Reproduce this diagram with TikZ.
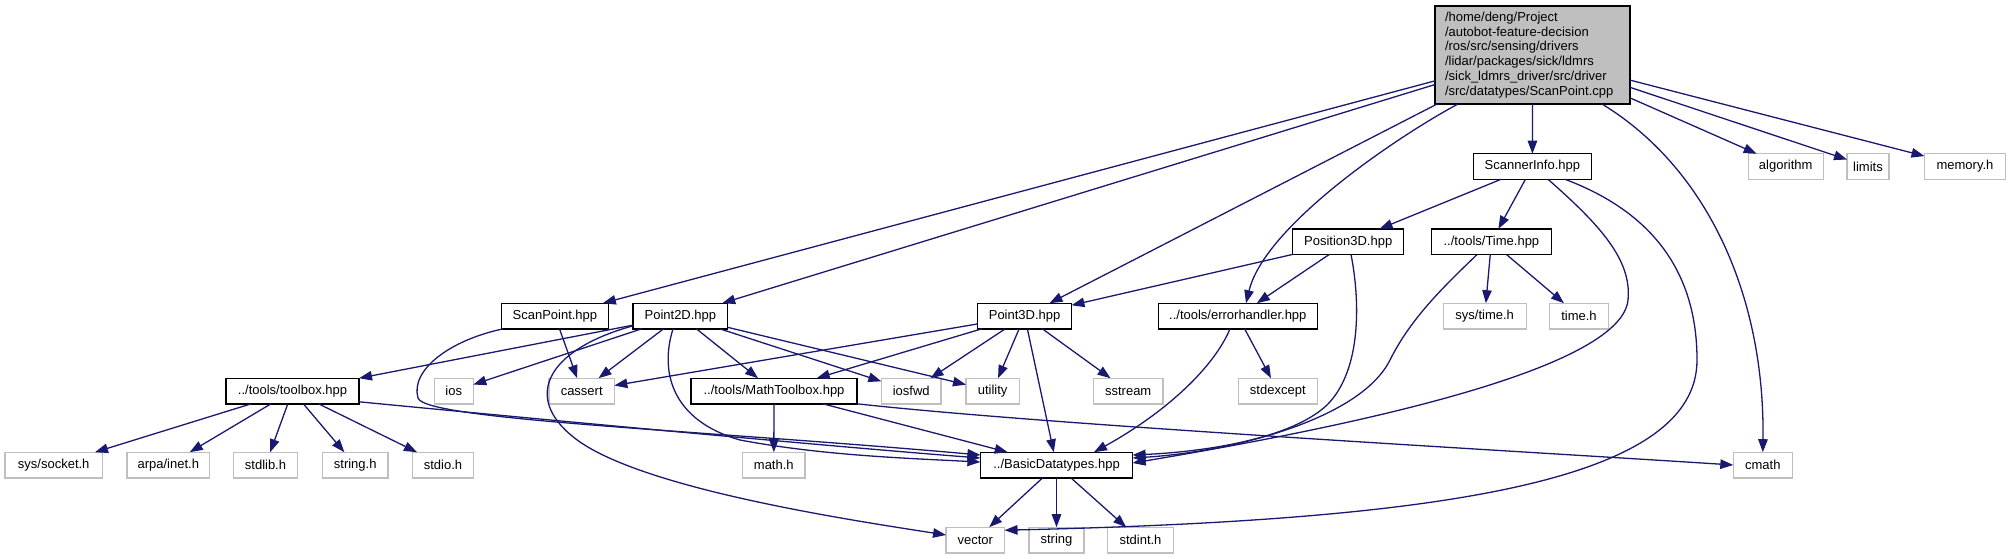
\documentclass[tikz,border=0pt]{standalone}
\usepackage{fontspec}
\setmainfont{Liberation Sans}
\usetikzlibrary{arrows.meta}
\definecolor{edgeblue}{HTML}{191970}
\definecolor{extgray}{HTML}{BFBFBF}
\begin{document}
\begin{tikzpicture}[x=1pt,y=-1pt,
  nbox/.style={minimum height=25.6pt, inner sep=0pt, outer sep=0pt, font=\fontsize{13}{15}\selectfont, fill=white},
  intnode/.style={nbox, draw=black, line width=1.4pt},
  extnode/.style={nbox, draw=extgray, line width=1.4pt},
  mainnode/.style={draw=black, line width=1.4pt, fill=extgray, inner sep=0pt, outer sep=0pt, font=\fontsize{13}{14.8}\selectfont, align=left, text width=175pt, minimum width=195pt, minimum height=98pt},
  edge/.style={draw=edgeblue, line width=1.3pt, -{Triangle[length=13pt,width=9.5pt]}}
]
\useasboundingbox (0,0) rectangle (2010,559);

% nodes
\node[mainnode] (main) at (1532.5,55) {/home/deng/Project\\/autobot-feature-decision\\/ros/src/sensing/drivers\\/lidar/packages/sick/ldmrs\\/sick\_ldmrs\_driver/src/driver\\/src/datatypes/ScanPoint.cpp};

\node[intnode, minimum width=117.8pt] (scannerinfo) at (1532.4,166.5) {ScannerInfo.hpp};
\node[extnode, minimum width=75pt] (algorithm) at (1785.7,166.5) {algorithm};
\node[extnode, minimum width=42pt] (limits) at (1868,166.5) {limits};
\node[extnode, minimum width=81pt] (memory) at (1965,166.5) {memory.h};

\node[intnode, minimum width=111pt] (position3d) at (1348.2,241.7) {Position3D.hpp};
\node[intnode, minimum width=120pt] (timehpp) at (1491.4,241.7) {../tools/Time.hpp};

\node[intnode, minimum width=107pt] (scanpoint) at (554.9,316) {ScanPoint.hpp};
\node[intnode, minimum width=94.7pt] (point2d) at (680.4,316) {Point2D.hpp};
\node[intnode, minimum width=93.7pt] (point3d) at (1024.6,316) {Point3D.hpp};
\node[intnode, minimum width=158.8pt] (errorhandler) at (1237.8,316) {../tools/errorhandler.hpp};
\node[extnode, minimum width=83pt] (systime) at (1484.7,316) {sys/time.h};
\node[extnode, minimum width=59pt] (timeh) at (1579,316) {time.h};

\node[intnode, minimum width=133pt] (toolbox) at (292.5,391) {../tools/toolbox.hpp};
\node[extnode, minimum width=39pt] (ios) at (453.8,391) {ios};
\node[extnode, minimum width=65.3pt] (cassert) at (581.7,391) {cassert};
\node[intnode, minimum width=166pt] (mathtoolbox) at (774,391) {../tools/MathToolbox.hpp};
\node[extnode, minimum width=59.7pt] (iosfwd) at (911.2,391) {iosfwd};
\node[extnode, minimum width=53.2pt] (utility) at (992.6,391) {utility};
\node[extnode, minimum width=69.2pt] (sstream) at (1128.2,391) {sstream};
\node[extnode, minimum width=79pt] (stdexcept) at (1277.8,391) {stdexcept};

\node[extnode, minimum width=97.3pt] (syssocket) at (53.7,465) {sys/socket.h};
\node[extnode, minimum width=82.7pt] (arpainet) at (168.3,465) {arpa/inet.h};
\node[extnode, minimum width=63.6pt] (stdlib) at (265.5,465) {stdlib.h};
\node[extnode, minimum width=65.7pt] (stringh) at (355.2,465) {string.h};
\node[extnode, minimum width=61.4pt] (stdio) at (443,465) {stdio.h};
\node[extnode, minimum width=62.5pt] (mathh) at (773.8,465) {math.h};
\node[intnode, minimum width=152.2pt] (basic) at (1056.5,465) {../BasicDatatypes.hpp};
\node[extnode, minimum width=59pt] (cmath) at (1762.8,465) {cmath};

\node[extnode, minimum width=58.5pt] (vector) at (975.3,540) {vector};
\node[extnode, minimum width=55pt] (string) at (1056.5,540) {string};
\node[extnode, minimum width=65.5pt] (stdint) at (1140.5,540) {stdint.h};

% edges from main
\draw[edge] (main) -- (scanpoint);
\draw[edge] (main) -- (point2d);
\draw[edge] (main) -- (point3d);
\draw[edge] ([xshift=23pt]main.south west) .. controls (1400,135) and (1265,225) .. ([xshift=87.6pt]errorhandler.north west);
\draw[edge] (main) -- (scannerinfo);
\draw[edge] ([xshift=-28pt]main.south east) .. controls (1710,170) and (1765,300) .. (cmath.north);
\draw[edge] (main) -- (algorithm);
\draw[edge] (main) -- (limits);
\draw[edge] (main) -- (memory);

% ScannerInfo
\draw[edge] (scannerinfo) -- (position3d);
\draw[edge] (scannerinfo) -- (timehpp);
\draw[edge] ([xshift=74.5pt]scannerinfo.south west) .. controls (1600,225) and (1632,260) .. (1628,300) .. controls (1622,360) and (1420,415) .. ([yshift=2pt]basic.east);
\draw[edge] ([xshift=91.5pt]scannerinfo.south west) .. controls (1660,215) and (1697,280) .. (1697,360) .. controls (1697,480) and (1450,520) .. ([yshift=-3pt]vector.north east);

% Position3D
\draw[edge] (position3d) -- (point3d);
\draw[edge] (position3d) -- (errorhandler);
\draw[edge] ([xshift=58.3pt]position3d.south west) .. controls (1360,300) and (1362,370) .. (1327,405) .. controls (1290,440) and (1200,452) .. ([yshift=10pt]basic.east);

% Time.hpp
\draw[edge] (timehpp) -- (systime);
\draw[edge] (timehpp) -- (timeh);
\draw[edge] ([xshift=45.7pt]timehpp.south west) .. controls (1440,290) and (1410,320) .. (1390,360) .. controls (1360,420) and (1230,452) .. ([yshift=7pt]basic.east);

% errorhandler
\draw[edge] (errorhandler) -- (stdexcept);
\draw[edge] ([xshift=71.6pt]errorhandler.south west) .. controls (1215,365) and (1170,410) .. ([xshift=-38.6pt]basic.north east);

% ScanPoint
\draw[edge] (scanpoint) -- (cassert);
\draw[edge] ([xshift=2pt]scanpoint.south west) .. controls (450,340) and (410,370) .. (418,398) .. controls (425,420) and (700,430) .. ([yshift=10pt]basic.west);

% Point2D
\draw[edge] (point2d) -- (toolbox);
\draw[edge] (point2d) -- (ios);
\draw[edge] (point2d) -- (cassert);
\draw[edge] (point2d) -- (mathtoolbox);
\draw[edge] (point2d) -- (iosfwd);
\draw[edge] (point2d) -- (utility);
\draw[edge] ([xshift=40pt]point2d.south west) .. controls (660,370) and (670,420) .. (740,440) .. controls (820,455) and (900,458) .. ([yshift=3pt]basic.west);
\draw[edge] ([yshift=3pt]point2d.south west) .. controls (545,350) and (520,400) .. (580,442) .. controls (650,490) and (850,520) .. ([yshift=5pt]vector.west);

% Point3D
\draw[edge] (point3d) -- (cassert);
\draw[edge] (point3d) -- (mathtoolbox);
\draw[edge] (point3d) -- (iosfwd);
\draw[edge] (point3d) -- (utility);
\draw[edge] (point3d) -- (sstream);
\draw[edge] (point3d) -- (basic);

% toolbox
\draw[edge] (toolbox) -- (syssocket);
\draw[edge] (toolbox) -- (arpainet);
\draw[edge] (toolbox) -- (stdlib);
\draw[edge] (toolbox) -- (stringh);
\draw[edge] (toolbox) -- (stdio);
\draw[edge] ([yshift=2pt]toolbox.south east) .. controls (600,425) and (850,448) .. ([yshift=7pt]basic.west);

% MathToolbox
\draw[edge] (mathtoolbox) -- (mathh);
\draw[edge] (mathtoolbox) -- (basic);
\draw[edge] (mathtoolbox.south east) .. controls (1050,425) and (1500,450) .. (cmath.west);

% BasicDatatypes
\draw[edge] (basic) -- (vector);
\draw[edge] (basic) -- (string);
\draw[edge] (basic) -- (stdint);
\end{tikzpicture}
\end{document}
